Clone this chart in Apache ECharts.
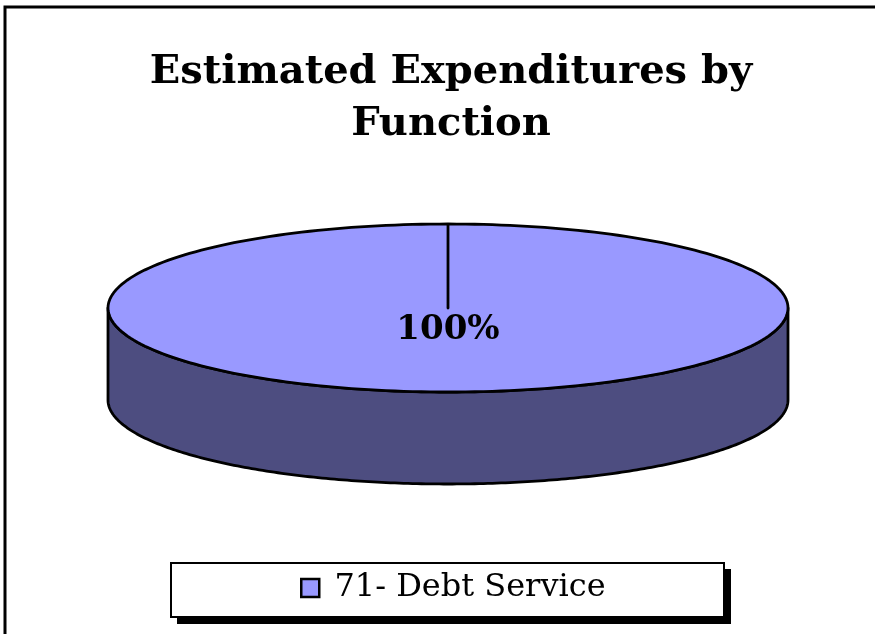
<!DOCTYPE html>
<html>
<head>
<meta charset="utf-8">
<script src="https://cdn.jsdelivr.net/npm/echarts@6/dist/echarts.min.js"></script>
<style>html,body{margin:0;padding:0;background:#fff}#c{width:875px;height:634px}</style>
</head>
<body>
<div id="c"></div>
<script>
var categories = ['71- Debt Service'];
var values = [100];
var titleText = 'Estimated Expenditures by\nFunction';

var topColor = '#9999FF';
var sideColor = '#4D4D80';
var depth = 1.095; // thickness in ellipse-radius units

var total = values.reduce(function (a, b) { return a + b; }, 0);

function pt(api, t, dy) {
  // t: clockwise angle from 12 o'clock (radians)
  return api.coord([Math.sin(t), Math.cos(t) - (dy || 0)]);
}

function renderItem(params, api) {
  var idx = params.dataIndex;
  var before = 0;
  for (var i = 0; i < idx; i++) before += values[i];
  var v = api.value(0);
  var a0 = before / total * Math.PI * 2;
  var a1 = (before + v) / total * Math.PI * 2;
  var N = 240;
  var children = [];
  var s0 = Math.max(a0, Math.PI / 2), s1 = Math.min(a1, Math.PI * 1.5);
  if (s1 > s0) {
    var side = [];
    for (var k = 0; k <= N; k++) side.push(pt(api, s0 + (s1 - s0) * k / N, 0));
    for (var k2 = N; k2 >= 0; k2--) side.push(pt(api, s0 + (s1 - s0) * k2 / N, depth));
    children.push({
      type: 'polygon', shape: { points: side },
      style: { fill: sideColor, stroke: '#000', lineWidth: 2.8, lineJoin: 'round' }
    });
  }
  var top = [api.coord([0, 0])];
  for (var j = 0; j <= N; j++) top.push(pt(api, a0 + (a1 - a0) * j / N, 0));
  children.push({
    type: 'polygon', shape: { points: top },
    style: { fill: topColor, stroke: '#000', lineWidth: 2.8, lineJoin: 'round' }
  });
  var mid = (a0 + a1) / 2;
  var lp = (a1 - a0) >= Math.PI * 2 - 1e-6 ? api.coord([0, -0.26]) : api.coord([Math.sin(mid) * 0.6, Math.cos(mid) * 0.6]);
  children.push({
    type: 'text', x: lp[0], y: lp[1],
    style: {
      text: Math.round(v / total * 100) + '%',
      fill: '#000', font: 'bold 34px "DejaVu Serif"',
      align: 'center', verticalAlign: 'middle'
    }
  });
  return { type: 'group', children: children };
}

var chart = echarts.init(document.getElementById('c'), null, { renderer: 'canvas' });
chart.setOption({
  backgroundColor: '#fff',
  animation: false,
  title: {
    text: titleText,
    left: 446, top: 42, textAlign: 'center',
    textStyle: { fontFamily: 'DejaVu Serif', fontWeight: 'bold', fontSize: 40, lineHeight: 52, color: '#000' }
  },
  grid: { left: 108, width: 680, top: 224, height: 260 },
  xAxis: { type: 'value', min: -1, max: 1, show: false },
  yAxis: { type: 'value', min: -1 - depth, max: 1, show: false },
  legend: {
    data: [{ name: categories[0], icon: 'rect' }],
    left: 300, top: 572, padding: 0,
    itemWidth: 18, itemHeight: 18,
    formatter: function (n) { return ' ' + n; },
    itemStyle: { borderColor: '#000', borderWidth: 2.5 },
    textStyle: { fontFamily: 'DejaVu Serif', fontSize: 32, color: '#000' }
  },
  graphic: [{
    type: 'rect', silent: true, z: -1,
    shape: { x: 5, y: 7, width: 900, height: 700 },
    style: { fill: 'none', stroke: '#000', lineWidth: 3 }
  }, {
    type: 'rect', silent: true, z: 1,
    shape: { x: 177, y: 569, width: 554, height: 55 },
    style: { fill: '#000' }
  }, {
    type: 'rect', silent: true, z: 2,
    shape: { x: 171, y: 563, width: 553, height: 54 },
    style: { fill: '#fff', stroke: '#000', lineWidth: 2 }
  }],
  series: [{
    type: 'custom',
    name: categories[0],
    itemStyle: { color: topColor },
    renderItem: renderItem,
    data: values.map(function (v) { return [v]; }),
    encode: { x: -1, y: -1 }
  }]
});
</script>
</body>
</html>
